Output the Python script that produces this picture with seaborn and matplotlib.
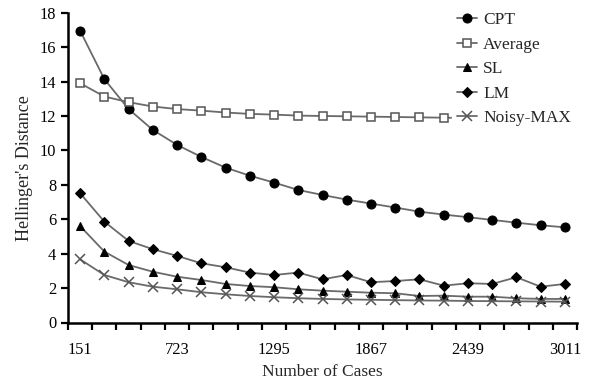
import numpy as np
import pandas as pd
import matplotlib
matplotlib.use("Agg")
import matplotlib.pyplot as plt
import seaborn as sns

# ---- data ----
cases = [151 + 143 * i for i in range(21)]
tick_labels = [151, 723, 1295, 1867, 2439, 3011]

cpt = [16.95, 14.14, 12.40, 11.19, 10.32, 9.62, 9.00, 8.53, 8.13, 7.70, 7.41,
       7.14, 6.91, 6.68, 6.44, 6.27, 6.12, 5.96, 5.80, 5.65, 5.53]
average = [13.90, 13.13, 12.80, 12.55, 12.40, 12.31, 12.20, 12.12, 12.08, 12.02, 12.00,
           11.98, 11.96, 11.94, 11.92, 11.90, 11.88, 11.86, 11.84, 11.82, 11.80]
sl = [5.60, 4.12, 3.34, 2.95, 2.66, 2.47, 2.24, 2.12, 2.05, 1.93, 1.85,
      1.79, 1.73, 1.70, 1.54, 1.56, 1.50, 1.50, 1.41, 1.37, 1.37]
lm = [7.51, 5.86, 4.74, 4.26, 3.87, 3.44, 3.21, 2.90, 2.76, 2.90, 2.51,
      2.76, 2.34, 2.41, 2.51, 2.14, 2.28, 2.24, 2.63, 2.08, 2.24]
noisy_max = [3.67, 2.76, 2.34, 2.08, 1.93, 1.76, 1.64, 1.54, 1.47, 1.41, 1.37,
             1.34, 1.32, 1.30, 1.28, 1.27, 1.25, 1.24, 1.23, 1.22, 1.21]

series_names = ["CPT", "Average", "SL", "LM", "Noisy-MAX"]
series_values = [cpt, average, sl, lm, noisy_max]

sns.set_theme(style="ticks")
plt.rcParams["font.family"] = ["Liberation Serif", "DejaVu Serif"]

fig = plt.figure(figsize=(5.9, 3.85), dpi=100)
ax = fig.add_axes([68 / 590, 1 - 322.5 / 385, (577 - 68) / 590, (322.5 - 12.7) / 385])

line_col = "#6a6a6a"
styles = {
    "CPT": dict(marker="o", markersize=6.5, markerfacecolor="black", markeredgecolor="black"),
    "Average": dict(marker="s", markersize=5.8, markerfacecolor="white", markeredgecolor="#555555",
                    markeredgewidth=1.1),
    "SL": dict(marker="^", markersize=6.2, markerfacecolor="black", markeredgecolor="black"),
    "LM": dict(marker="D", markersize=5.0, markerfacecolor="black", markeredgecolor="black"),
    "Noisy-MAX": dict(marker="x", markersize=6.8, markerfacecolor="none", markeredgecolor="#555555",
                      markeredgewidth=1.1),
}

for name, vals in zip(series_names, series_values):
    df = pd.DataFrame({"cases": cases, "value": vals})
    sns.lineplot(data=df, x="cases", y="value", ax=ax, color=line_col, linewidth=1.3,
                 label=name, **styles[name])

step = cases[1] - cases[0]
ax.set_xlim(cases[0] - step / 2, cases[-1] + step / 2)
ax.set_ylim(0, 18)
ax.set_yticks(np.arange(0, 19, 2))
ax.set_xticks(tick_labels)
ax.set_xticklabels([str(t) for t in tick_labels])
ax.set_xticks([cases[0] - step / 2 + step * k for k in range(22)], minor=True)
ax.tick_params(axis="x", which="major", length=0, labelsize=11.8, pad=14, colors="black")
ax.tick_params(axis="x", which="minor", length=5, width=1.6, direction="out", color="black")
ax.tick_params(axis="y", which="major", length=5, width=1.6, direction="out",
               labelsize=11.8, colors="black")

for s in ["top", "right"]:
    ax.spines[s].set_visible(False)
for s in ["left", "bottom"]:
    ax.spines[s].set_linewidth(1.8)
    ax.spines[s].set_color("black")

ax.set_xlabel("Number of Cases", fontsize=12.5, labelpad=4)
ax.set_ylabel("Hellinger's Distance", fontsize=13, labelpad=5)
ax.grid(False)

leg = ax.legend(loc="upper left", bbox_to_anchor=(452 / 590, 1 - 7 / 385),
                bbox_transform=fig.transFigure, frameon=True, fontsize=12.5,
                handlelength=1.15, handletextpad=0.35, labelspacing=0.48,
                borderpad=0.3, borderaxespad=0)
leg.get_frame().set_facecolor("white")
leg.get_frame().set_edgecolor("white")
leg.get_frame().set_alpha(1)

fig.savefig("out.png", dpi=100)
